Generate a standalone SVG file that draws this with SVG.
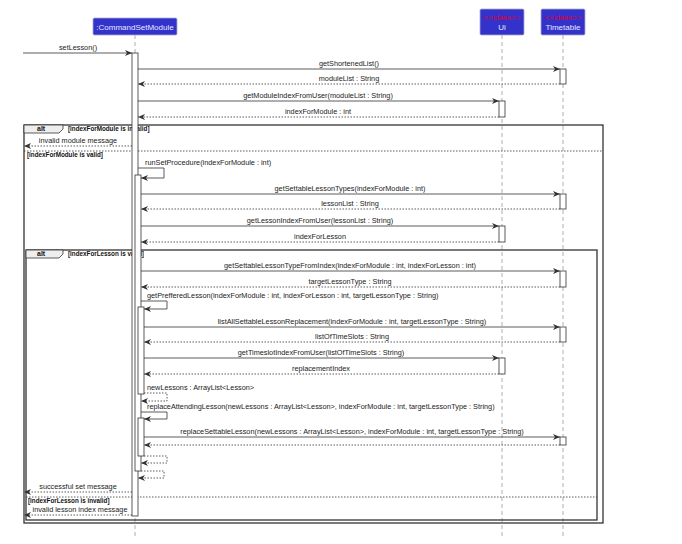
<svg xmlns="http://www.w3.org/2000/svg" width="682" height="544" viewBox="0 0 682 544">
<defs>
<marker id="ah" markerWidth="8" markerHeight="6" refX="7" refY="3" orient="auto" markerUnits="userSpaceOnUse">
<path d="M0,0 L7,3 L0,6 L2,3 Z" fill="#333"/>
</marker>
<style>
.life{stroke:#999;stroke-width:0.8;stroke-dasharray:4,3;fill:none}
.pbox{fill:#3333CC;stroke:#AAAACC;stroke-width:0.8}
.ptxt{font-family:"Liberation Sans",Arial,sans-serif;font-size:8px;fill:#E8E8FF;text-anchor:middle}
.stereo{font-family:"Liberation Sans",Arial,sans-serif;font-size:8px;fill:#DD0033;text-anchor:middle}
.act{fill:#fff;stroke:#333;stroke-width:0.8}
.msg{stroke:#333;stroke-width:0.8;fill:none}
.ret{stroke:#333;stroke-width:0.8;fill:none;stroke-dasharray:1.5,1.5}
.t{font-family:"Liberation Sans",Arial,sans-serif;font-size:7.3px;fill:#222}
.c{text-anchor:middle}
.frame{fill:none;stroke:#333;stroke-width:1.3}
.tab{fill:#EEEEEE;stroke:#333;stroke-width:0.8}
.g{font-family:"Liberation Sans",Arial,sans-serif;font-size:6.3px;font-weight:bold;fill:#111}
.sep{stroke:#333;stroke-width:0.8;stroke-dasharray:1.5,1.5}
</style>
</defs>
<rect width="682" height="544" fill="#fff"/>

<g id="lifelines">
<line class="life" x1="135" y1="35" x2="135" y2="536"/>
<line class="life" x1="502" y1="35" x2="502" y2="536"/>
<line class="life" x1="563" y1="35" x2="563" y2="536"/>
</g>

<g id="CommandSetModule">
<rect class="pbox" x="93" y="18" width="84" height="17" rx="1.5"/>
<text class="ptxt" x="135" y="29.5">:CommandSetModule</text>
</g>
<g id="Ui">
<rect class="pbox" x="480" y="9" width="44" height="26" rx="1.5"/>
<text class="stereo" x="502" y="20">&lt;&lt;class&gt;&gt;</text>
<text class="ptxt" x="502" y="29.5">Ui</text>
</g>
<g id="Timetable">
<rect class="pbox" x="541" y="9" width="44" height="26" rx="1.5"/>
<text class="stereo" x="563" y="20">&lt;&lt;class&gt;&gt;</text>
<text class="ptxt" x="563" y="29.5">Timetable</text>
</g>

<g id="frames">
<rect class="frame" x="24" y="125" width="579" height="398"/>
<polygon class="tab" points="24,125 63,125 63,129 59,133 24,133"/>
<text class="g" x="37" y="131" style="font-size:7px">alt</text>
<text class="g" x="68" y="131">[indexForModule is invalid]</text>
<line class="sep" x1="24" y1="151" x2="603" y2="151"/>
<text class="g" x="27" y="157">[indexForModule is valid]</text>

<rect class="frame" x="26" y="250" width="571" height="270"/>
<polygon class="tab" points="26,250 63,250 63,254 59,258 26,258"/>
<text class="g" x="37" y="256" style="font-size:7px">alt</text>
<text class="g" x="68" y="256">[indexForLesson is valid]</text>
<line class="sep" x1="26" y1="497" x2="597" y2="497"/>
<text class="g" x="28" y="503">[indexForLesson is invalid]</text>
</g>

<g id="activations">
<rect class="act" x="132" y="53" width="6" height="463"/>
<rect class="act" x="135" y="175" width="6" height="296"/>
<rect class="act" x="138" y="307" width="6" height="87"/>
<rect class="act" x="138" y="418" width="6" height="38"/>
<rect class="act" x="499" y="101" width="6" height="16"/>
<rect class="act" x="499" y="226" width="6" height="16"/>
<rect class="act" x="499" y="358" width="6" height="16"/>
<rect class="act" x="560" y="69" width="6" height="15"/>
<rect class="act" x="560" y="194" width="6" height="15"/>
<rect class="act" x="560" y="271" width="6" height="16"/>
<rect class="act" x="560" y="327" width="6" height="15"/>
<rect class="act" x="560" y="437" width="6" height="8"/>
</g>

<g id="connectors">
<line class="msg" x1="23" y1="53" x2="132" y2="53" marker-end="url(#ah)"/>
<line class="msg" x1="138" y1="69" x2="560" y2="69" marker-end="url(#ah)"/>
<line class="ret" x1="560" y1="84" x2="138" y2="84" marker-end="url(#ah)"/>
<line class="msg" x1="138" y1="101" x2="499" y2="101" marker-end="url(#ah)"/>
<line class="ret" x1="499" y1="117" x2="138" y2="117" marker-end="url(#ah)"/>
<line class="ret" x1="132" y1="146" x2="24" y2="146" marker-end="url(#ah)"/>
<polyline class="msg" points="138,168 164,168 164,178 141,178" marker-end="url(#ah)"/>
<line class="msg" x1="141" y1="194" x2="560" y2="194" marker-end="url(#ah)"/>
<line class="ret" x1="560" y1="209" x2="141" y2="209" marker-end="url(#ah)"/>
<line class="msg" x1="141" y1="226" x2="499" y2="226" marker-end="url(#ah)"/>
<line class="ret" x1="499" y1="242" x2="141" y2="242" marker-end="url(#ah)"/>
<line class="msg" x1="141" y1="271" x2="560" y2="271" marker-end="url(#ah)"/>
<line class="ret" x1="560" y1="287" x2="141" y2="287" marker-end="url(#ah)"/>
<polyline class="msg" points="141,301 167,301 167,309 144,309" marker-end="url(#ah)"/>
<line class="msg" x1="144" y1="327" x2="560" y2="327" marker-end="url(#ah)"/>
<line class="ret" x1="560" y1="342" x2="144" y2="342" marker-end="url(#ah)"/>
<line class="msg" x1="144" y1="358" x2="499" y2="358" marker-end="url(#ah)"/>
<line class="ret" x1="499" y1="374" x2="144" y2="374" marker-end="url(#ah)"/>
<polyline class="ret" points="144,393 167,393 167,401 141,401" marker-end="url(#ah)"/>
<polyline class="msg" points="141,412 167,412 167,419 144,419" marker-end="url(#ah)"/>
<line class="msg" x1="144" y1="437" x2="560" y2="437" marker-end="url(#ah)"/>
<line class="ret" x1="560" y1="445" x2="144" y2="445" marker-end="url(#ah)"/>
<polyline class="ret" points="144,456 167,456 167,463 141,463" marker-end="url(#ah)"/>
<polyline class="ret" points="141,471 164,471 164,478 138,478" marker-end="url(#ah)"/>
<line class="ret" x1="132" y1="492" x2="24" y2="492" marker-end="url(#ah)"/>
<line class="ret" x1="132" y1="515" x2="24" y2="515" marker-end="url(#ah)"/>
</g>

<g id="labels">
<text class="t c" x="78" y="50">setLesson()</text>
<text class="t c" x="349" y="66">getShortenedList()</text>
<text class="t c" x="349" y="81">moduleList : String</text>
<text class="t c" x="318" y="98">getModuleIndexFromUser(moduleList : String)</text>
<text class="t c" x="318" y="114">indexForModule : int</text>
<text class="t c" x="78" y="143">invalid module message</text>
<text class="t" x="145" y="165">runSetProcedure(indexForModule : int)</text>
<text class="t c" x="350" y="191">getSettableLessonTypes(indexForModule : int)</text>
<text class="t c" x="350" y="206">lessonList : String</text>
<text class="t c" x="320" y="223">getLessonIndexFromUser(lessonList : String)</text>
<text class="t c" x="320" y="239">indexForLesson</text>
<text class="t c" x="350" y="268">getSettableLessonTypeFromIndex(indexForModule : int, indexForLesson : int)</text>
<text class="t c" x="350" y="284">targetLessonType : String</text>
<text class="t" x="147" y="298">getPrefferedLesson(indexForModule : int, indexForLesson : int, targetLessonType : String)</text>
<text class="t c" x="352" y="324">listAllSettableLessonReplacement(indexForModule : int, targetLessonType : String)</text>
<text class="t c" x="352" y="339">listOfTimeSlots : String</text>
<text class="t c" x="321" y="355">getTimeslotIndexFromUser(listOfTimeSlots : String)</text>
<text class="t c" x="321" y="371">replacementIndex</text>
<text class="t" x="147" y="390">newLessons : ArrayList&lt;Lesson&gt;</text>
<text class="t" x="147" y="409">replaceAttendingLesson(newLessons : ArrayList&lt;Lesson&gt;, indexForModule : int, targetLessonType : String)</text>
<text class="t c" x="352" y="434">replaceSettableLesson(newLessons : ArrayList&lt;Lesson&gt;, indexForModule : int, targetLessonType : String)</text>
<text class="t c" x="78" y="489">successful set message</text>
<text class="t c" x="80" y="512">invalid lesson index message</text>
</g>
</svg>
